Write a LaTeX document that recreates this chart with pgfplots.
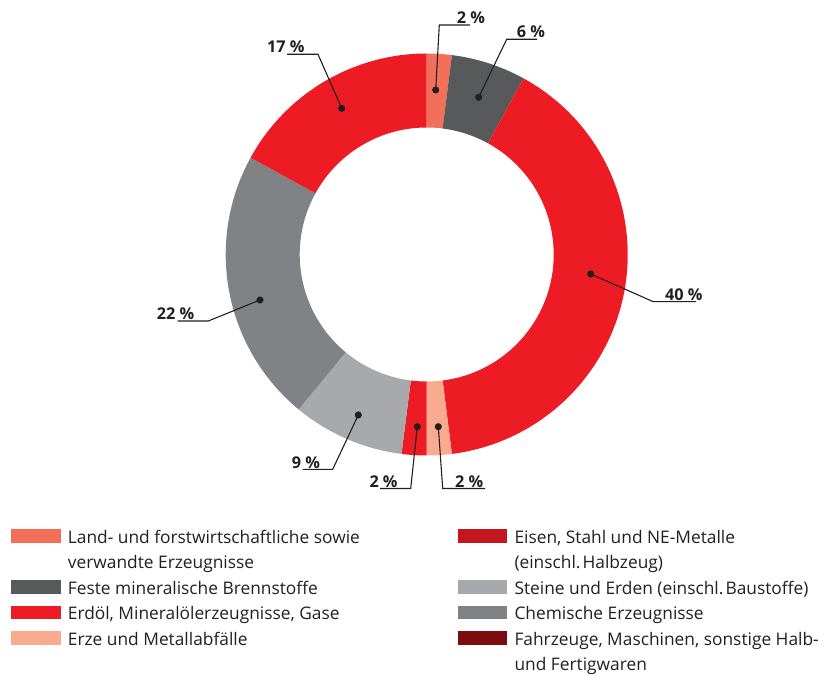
\documentclass[border=0pt]{standalone}
\usepackage{pgfplots}
\pgfplotsset{compat=1.18}
\usepackage{fontspec}
\setmainfont{Open Sans}
\frenchspacing
\definecolor{ink}{HTML}{231F20}
\definecolor{cLand}{HTML}{F2705A}
\definecolor{cFeste}{HTML}{58595B}
\definecolor{cErdoel}{HTML}{ED1C24}
\definecolor{cErze}{HTML}{F9AA8F}
\definecolor{cEisen}{HTML}{C4161E}
\definecolor{cSteine}{HTML}{A7A9AC}
\definecolor{cChemie}{HTML}{808285}
\definecolor{cFahrz}{HTML}{7D0C0E}
% donut geometry (bp)
\def\cx{426.7}\def\cy{419.5}\def\R{201}\def\r{127}
% #1 cumulative share before segment (%), #2 share (%), #3 colour
\newcommand\seg[3]{%
  \pgfmathsetmacro\sa{90-3.6*(#1)}%
  \pgfmathsetmacro\sb{90-3.6*(#1+#2)}%
  \pgfmathsetmacro\xa{\cx+\R*cos(\sa)}%
  \pgfmathsetmacro\ya{\cy+\R*sin(\sa)}%
  \pgfmathsetmacro\xb{\cx+\r*cos(\sb)}%
  \pgfmathsetmacro\yb{\cy+\r*sin(\sb)}%
  \edef\tmp{\noexpand\fill[#3] (axis cs:\xa,\ya) arc[start angle=\sa, end angle=\sb, radius=\R bp] -- (axis cs:\xb,\yb) arc[start angle=\sb, end angle=\sa, radius=\r bp] -- cycle;}%
  \tmp}
\newcommand\lbl[3]{\node[anchor=base west, inner sep=0pt, text=ink, font=\bfseries\fontsize{16.3}{18}\selectfont] at (axis cs:#1,#2) {#3};}
\newcommand\leg[3]{\node[anchor=base west, inner sep=0pt, text=ink, font=\fontsize{17.4}{20}\selectfont] at (axis cs:#1,#2) {#3};}
\newcommand\legbox[3]{\fill[#3] (axis cs:#1,#2) rectangle (axis cs:#1+49.5,#2+13.7);}
\begin{document}
\begin{tikzpicture}
\begin{axis}[x=1bp, y=1bp, xmin=0, xmax=829, ymin=0, ymax=674, hide axis, clip=false]
\path (axis cs:0,0) rectangle (axis cs:829,674);
% shares in %: Land 2, Feste 6, Erdoel 40, Erze 2, Eisen 2, Steine 9, Chemie 22, Fahrzeuge 17
\seg{0}{2}{cLand}
\seg{2}{6}{cFeste}
\seg{8}{40}{cErdoel}
\seg{48}{2}{cErze}
\seg{50}{2}{cErdoel}
\seg{52}{9}{cSteine}
\seg{61}{22}{cChemie}
\seg{83}{17}{cErdoel}
% leader lines
\addplot[ink, line width=1.1bp] coordinates {(435.7,584) (439.3,649) (470,649)};
\addplot[ink, line width=1.1bp] coordinates {(478.7,576.7) (506.7,634.7) (537,634.7)};
\addplot[ink, line width=1.1bp] coordinates {(590.7,400) (653.3,372.3) (696,372.3)};
\addplot[ink, line width=1.1bp] coordinates {(438.3,247.3) (442.7,185.5) (485,185.5)};
\addplot[ink, line width=1.1bp] coordinates {(417.3,247.3) (410.7,185.5) (380,185.5)};
\addplot[ink, line width=1.1bp] coordinates {(358.3,259) (332.7,204.7) (302.7,204.7)};
\addplot[ink, line width=1.1bp] coordinates {(260,374) (208.3,353) (177.7,353)};
\addplot[ink, line width=1.1bp] coordinates {(341.7,565.7) (318,619.7) (287,619.7)};
% dots
\addplot[only marks, mark=*, mark size=3.3bp, ink] coordinates {
 (435.7,584) (478.7,576.7) (590.7,400) (438.3,247.3)
 (417.3,247.3) (358.3,259) (260,374) (341.7,565.7)};
% value labels
\lbl{456.7}{650.5}{2 \%}
\lbl{516.7}{636}{6 \%}
\lbl{665}{373.3}{40 \%}
\lbl{455}{186.7}{2 \%}
\lbl{369.3}{186.7}{2 \%}
\lbl{291.7}{206}{9 \%}
\lbl{156.7}{354.3}{22 \%}
\lbl{267}{621}{17 \%}
% legend
\legbox{11}{131.3}{cLand}
\legbox{11}{80}{cFeste}
\legbox{11}{54.7}{cErdoel}
\legbox{11}{29}{cErze}
\legbox{457.7}{131.3}{cEisen}
\legbox{457.7}{80}{cSteine}
\legbox{457.7}{54.7}{cChemie}
\legbox{457.7}{29}{cFahrz}
\leg{67.7}{130.7}{Land- und forstwirtschaftliche sowie}
\leg{67.7}{105.4}{verwandte Erzeugnisse}
\leg{67.7}{80}{Feste mineralische Brennstoffe}
\leg{67.7}{54.7}{Erdöl, Mineralölerzeugnisse, Gase}
\leg{67.7}{29}{Erze und Metallabfälle}
\leg{514.3}{130.7}{Eisen, Stahl und NE-Metalle}
\leg{514.3}{105.4}{(einschl.\hspace{0.12em}Halbzeug)}
\leg{514.3}{80}{Steine und Erden (einschl.\hspace{0.12em}Baustoffe)}
\leg{514.3}{54.7}{Chemische Erzeugnisse}
\leg{514.3}{29}{Fahrzeuge, Maschinen, sonstige Halb-}
\leg{514.3}{3.7}{und Fertigwaren}
\end{axis}
\end{tikzpicture}
\end{document}
